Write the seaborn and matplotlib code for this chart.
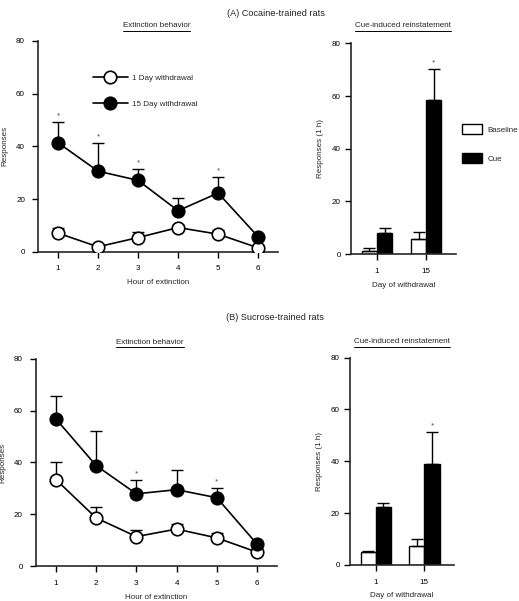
import matplotlib
matplotlib.use("Agg")
import matplotlib.pyplot as plt
from matplotlib.lines import Line2D
import numpy as np
import pandas as pd
import seaborn as sns

# extinction behaviour (responses per hour)
hours = [1, 2, 3, 4, 5, 6]
coc_1d = [7.1, 1.9, 5.4, 9.2, 6.7, 1.5]
coc_1d_err = [2.1, 0.0, 2.3, 0.8, 1.4, 0.5]
coc_15d = [41.4, 30.6, 27.1, 15.6, 22.3, 5.7]
coc_15d_err = [7.8, 10.5, 4.3, 4.7, 6.0, 0.8]
coc_stars = [1, 2, 3, 5]

suc_1d = [33.4, 18.6, 11.4, 14.3, 10.9, 5.4]
suc_1d_err = [6.7, 4.3, 2.4, 1.8, 1.7, 0.5]
suc_15d = [56.8, 38.8, 27.9, 29.5, 26.4, 8.5]
suc_15d_err = [9.0, 13.5, 5.3, 7.5, 3.8, 0.8]
suc_stars = [3, 5]

# cue-induced reinstatement (responses in 1 h)
days = ["1", "15"]
conditions = ["Baseline", "Cue"]
coc_base = [1.4, 5.6]
coc_base_err = [0.9, 2.7]
coc_cue = [8.2, 58.3]
coc_cue_err = [1.9, 11.9]
suc_base = [5.0, 7.4]
suc_base_err = [0.5, 2.8]
suc_cue = [22.3, 39.1]
suc_cue_err = [1.6, 12.3]

FS = 5.8

sns.set_style("ticks")
plt.rcParams["font.family"] = ["Liberation Sans", "DejaVu Sans"]
plt.rcParams["font.size"] = FS
plt.rcParams["axes.linewidth"] = 1.2
plt.rcParams["xtick.major.size"] = 4.3
plt.rcParams["ytick.major.size"] = 4.3
plt.rcParams["xtick.major.width"] = 1
plt.rcParams["ytick.major.width"] = 1
plt.rcParams["xtick.labelsize"] = FS
plt.rcParams["ytick.labelsize"] = FS


def style_axes(ax, ylabel, xlabel, ypad):
    sns.despine(ax=ax)
    ax.set_ylim(0, 80)
    ax.set_yticks([0, 20, 40, 60, 80])
    ax.set_ylabel(ylabel, fontsize=FS, labelpad=5.5)
    ax.set_xlabel(xlabel, fontsize=FS, labelpad=5)
    ax.tick_params(axis="x", colors="black", pad=5.5)
    ax.tick_params(axis="y", colors="black", pad=ypad)


def star(ax, x, y):
    ax.text(x, y + 1.0, "*", ha="center", va="bottom", fontsize=FS, color="#444444")


def line_panel(ax, one, one_err, fifteen, fifteen_err, stars, legend):
    ax.errorbar(hours, one, yerr=[np.zeros(6), one_err], fmt="none", ecolor="black",
                elinewidth=1, capsize=4, capthick=1, zorder=1)
    ax.errorbar(hours, fifteen, yerr=[np.zeros(6), fifteen_err], fmt="none", ecolor="black",
                elinewidth=1, capsize=4, capthick=1, zorder=1)
    sns.lineplot(x=hours, y=one, ax=ax, color="black", linewidth=1.2, marker="o",
                 markersize=9, markerfacecolor="white", markeredgecolor="black",
                 markeredgewidth=1.2, label="1 Day withdrawal", zorder=3)
    sns.lineplot(x=hours, y=fifteen, ax=ax, color="black", linewidth=1.2, marker="o",
                 markersize=9, markerfacecolor="black", markeredgecolor="black",
                 markeredgewidth=1.2, label="15 Day withdrawal", zorder=3)
    for h in stars:
        i = hours.index(h)
        star(ax, h, fifteen[i] + fifteen_err[i])
    ax.set_xlim(0.5, 6.5)
    ax.set_xticks(hours)
    style_axes(ax, "Responses", "Hour of extinction", 5)
    if legend:
        ax.legend(loc="upper left", bbox_to_anchor=(0.212, 0.862), frameon=False,
                  handlelength=4.35, handletextpad=0.5, labelspacing=2.35, fontsize=FS,
                  borderpad=0)
    else:
        ax.get_legend().remove()


def bar_panel(ax, base, base_err, cue, cue_err, legend):
    df = pd.DataFrame({
        "day": days * 2,
        "condition": [conditions[0]] * 2 + [conditions[1]] * 2,
        "value": base + cue,
    })
    sns.barplot(data=df, x="day", y="value", hue="condition", order=days,
                hue_order=conditions, palette={"Baseline": "white", "Cue": "black"},
                edgecolor="black", linewidth=1, width=0.62, errorbar=None, ax=ax,
                legend=legend)
    for cont, vals, errs in zip(ax.containers, [base, cue], [base_err, cue_err]):
        xs = [p.get_x() + p.get_width() / 2 for p in cont]
        ax.errorbar(xs, vals, yerr=[np.zeros(len(vals)), errs], fmt="none",
                    ecolor="black", elinewidth=1, capsize=4, capthick=1, zorder=1)
    xs = [p.get_x() + p.get_width() / 2 for p in ax.containers[1]]
    star(ax, xs[1], cue[1] + cue_err[1])
    ax.set_xlim(-0.53, 1.61)
    style_axes(ax, "Responses (1 h)", "Day of withdrawal", 3)
    if legend:
        ax.legend(loc="upper left", bbox_to_anchor=(0.882, 0.80),
                  bbox_transform=ax.figure.transFigure, frameon=False,
                  handlelength=2.5, handleheight=1.5, handletextpad=0.7,
                  labelspacing=2.4, fontsize=FS, borderpad=0)


fig = plt.figure(figsize=(5.19, 6.01), dpi=100)
ax1 = fig.add_axes([0.073, 0.581, 0.463, 0.351])
ax2 = fig.add_axes([0.676, 0.577, 0.203, 0.351])
ax3 = fig.add_axes([0.069, 0.058, 0.465, 0.345])
ax4 = fig.add_axes([0.674, 0.060, 0.201, 0.345])

line_panel(ax1, coc_1d, coc_1d_err, coc_15d, coc_15d_err, coc_stars, True)
bar_panel(ax2, coc_base, coc_base_err, coc_cue, coc_cue_err, True)
line_panel(ax3, suc_1d, suc_1d_err, suc_15d, suc_15d_err, suc_stars, False)
bar_panel(ax4, suc_base, suc_base_err, suc_cue, suc_cue_err, False)

fig.text(0.532, 0.978, "(A) Cocaine-trained rats", ha="center", va="center", fontsize=6.6)
fig.text(0.530, 0.471, "(B) Sucrose-trained rats", ha="center", va="center", fontsize=6.6)
subtitles = [
    fig.text(0.302, 0.957, "Extinction behavior", ha="center", va="center", fontsize=FS),
    fig.text(0.777, 0.957, "Cue-induced reinstatement", ha="center", va="center", fontsize=FS),
    fig.text(0.289, 0.430, "Extinction behavior", ha="center", va="center", fontsize=FS),
    fig.text(0.775, 0.431, "Cue-induced reinstatement", ha="center", va="center", fontsize=FS),
]

# underline the panel titles
fig.canvas.draw()
renderer = fig.canvas.get_renderer()
for t in subtitles:
    bb = t.get_window_extent(renderer).transformed(fig.transFigure.inverted())
    y = bb.y0 - 0.002
    fig.add_artist(Line2D([bb.x0, bb.x1], [y, y], color="black", linewidth=0.7,
                          transform=fig.transFigure))

fig.savefig("out.png", dpi=100)
